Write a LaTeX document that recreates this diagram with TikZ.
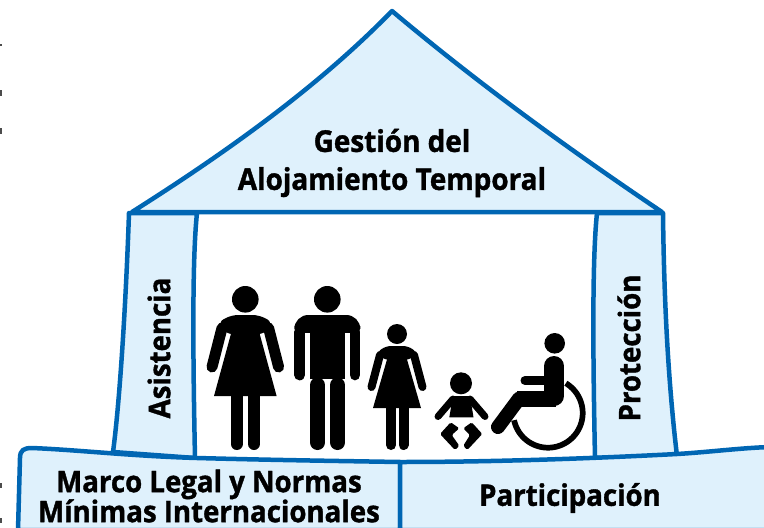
\documentclass[tikz,border=0pt]{standalone}
\usepackage{fontspec}
\setmainfont{Open Sans}[FakeStretch=0.93,BoldFeatures={FakeBold=1.2}]
\definecolor{shelterline}{HTML}{0066B3}
\definecolor{shelterfill}{HTML}{DFF1FC}
\tikzset{
	wall/.style={draw=shelterline,fill=shelterfill,line width=4.5pt,line join=round},
	tag/.style={font=\fontsize{29.7}{30}\selectfont\bfseries,align=center,inner sep=0pt},
	limb/.style={line width=#1,line cap=round,draw=black},
}
\begin{document}
\begin{tikzpicture}[x=1pt,y=-1pt]
	\useasboundingbox (0,0) rectangle (764,528);

	\foreach \yy/\hh in {44/2,90/6,128/6,483/5,518/5}
		\fill[black!70] (0,\yy) rectangle (1.6,\yy+\hh);

	\draw[wall] (392,11) .. controls (480,85) and (570,150) .. (662,212)
		-- (132,212) .. controls (230,150) and (320,85) .. (392,11) -- cycle;
	\draw[wall] (129,213) -- (197,213) .. controls (192,260) and (193,360) .. (195,458)
		-- (113,452) .. controls (120,400) and (126,300) .. (129,213) -- cycle;
	\draw[wall] (597,213) -- (663,213) .. controls (664,300) and (668,380) .. (677,456)
		-- (595,458) .. controls (593,360) and (592,260) .. (597,213) -- cycle;
	\draw[wall] (18,530) -- (20,458) .. controls (20,450) and (24,448) .. (32,448)
		.. controls (80,450) and (130,456) .. (197,458)
		.. controls (270,460) and (340,461) .. (400,462) -- (400,530) -- cycle;
	\draw[wall] (400,530) -- (400,462) .. controls (500,462) and (600,458) .. (677,454)
		.. controls (710,452) and (740,448) .. (770,447) -- (770,530) -- cycle;

	\node[tag,font=\fontsize{30}{38}\selectfont\bfseries] (GT) at (392,163) {Gestión del\\Alojamiento Temporal};
	\node[tag,rotate=90] (AS) at (159,348) {Asistencia};
	\node[tag,rotate=90] (PR) at (629,348) {Protección};
	\node[tag] (ML) at (209,496) {Marco Legal y Normas\\Mínimas Internacionales};
	\node[tag] (PA) at (570,498) {Participación};

	\fill (245.3,299.3) circle (13.3);
	\fill[rounded corners=6pt] (226,334) -- (218,322) -- (232,315) -- (258.6,315) -- (272.6,322) -- (264.6,334) -- cycle;
	\fill (232,330) -- (214,396) -- (276.6,396) -- (258.6,330) -- cycle;
	\draw[limb=11pt] (222,328) -- (212,367);
	\draw[limb=11pt] (268.6,328) -- (278.6,367);
	\draw[limb=12pt] (236.7,392) -- (236.7,444);
	\draw[limb=12pt] (254,392) -- (254,444);

	\fill (327.3,299.3) circle (13.3);
	\fill[rounded corners=14pt] (294.3,340) -- (294.3,315) -- (360.3,315) -- (360.3,340) -- cycle;
	\fill[white] (305,333) rectangle (310,345);
	\fill[white] (344.8,333) rectangle (349.6,345);
	\fill (310,320) rectangle (345,379);
	\draw[limb=10.7pt] (299.7,332) -- (299.7,375);
	\draw[limb=10.7pt] (354.9,332) -- (354.9,375);
	\draw[limb=15pt] (317.5,385) -- (317.5,442.5);
	\draw[limb=15pt] (337.5,385) -- (337.5,442.5);

	\fill (397,334) circle (10);
	\fill[rounded corners=5pt] (385,360) -- (376,353) -- (386,346) -- (408,346) -- (418,353) -- (409,360) -- cycle;
	\fill (388,356) -- (373,408) -- (421,408) -- (406,356) -- cycle;
	\draw[limb=8pt] (380,355) -- (371.5,387);
	\draw[limb=8pt] (414,355) -- (422.5,387);
	\draw[limb=10pt] (391,405) -- (391,445);
	\draw[limb=10pt] (403.5,405) -- (403.5,445);

	\fill (461,383.3) circle (11);
	\fill (453,396) -- (470,396) -- (473.5,417.3) -- (449.3,417.3) -- cycle;
	\draw[limb=7pt] (453,399) -- (438,416.5);
	\draw[limb=7pt] (470,399) -- (485,416.5);
	\fill[rounded corners=1.5pt] (450.7,422.3) -- (440,434) -- (455,450) -- (459.3,445.7) -- (451.7,435) -- (459.3,428.3) -- cycle;
	\fill[rounded corners=1.5pt] (471.7,422.3) -- (482.3,434) -- (467.3,450) -- (463.3,445.7) -- (470,435) -- (463.3,428.3) -- cycle;

	\fill (554.7,343.3) circle (10.3);
	\draw[line width=20pt,line cap=round] (554,366) -- (554,396);
	\draw[limb=9pt] (525,380.5) -- (550,380.5);
	\draw[line width=16pt,line join=round] (556,398.7) -- (517,398.7);
	\draw[line width=14pt,line cap=round] (519,398.7) -- (498,427);
	\draw[line width=5.7pt] plot[domain=-59:168,samples=60,smooth] ({548+34.7*cos(\x)},{413+34.7*sin(\x)});
\end{tikzpicture}
\end{document}
